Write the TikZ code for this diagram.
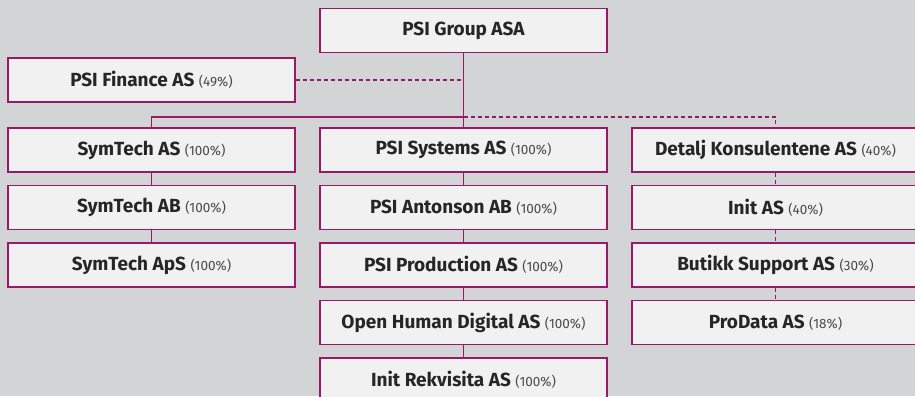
\documentclass[tikz,border=0pt]{standalone}
\usepackage{fontspec}
\setmainfont{Fira Sans}
\usepackage{tikz}
\usetikzlibrary{positioning}

\definecolor{psiline}{HTML}{98186A}
\definecolor{psibg}{HTML}{D3D4D6}
\definecolor{psibox}{HTML}{F1F1F2}
\definecolor{psitext}{HTML}{262626}
\definecolor{psishare}{HTML}{4A4A4A}
\newcommand{\share}[1]{{\fontsize{13.5}{15}\selectfont\mdseries\color{psishare}(#1)}}

\begin{document}
\begin{tikzpicture}[x = 1pt, y = -1pt, node distance = 12.4pt,
    every node/.style = { draw = psiline, fill = psibox, line width = 1.1pt, shape = rectangle,
      minimum width = 287pt, minimum height = 44pt, inner sep = 0pt, text = psitext,
      font = \fontsize{19}{21}\selectfont\bfseries },
    owned/.style = { draw = psiline, line width = 1.1pt },
    partial/.style = { owned, dash pattern = on 4pt off 3pt }]
    \fill [psibg] (0,0) rectangle (915,396);
    \useasboundingbox (0,0) rectangle (915,396);

    \node (group) at (463.5,30.5) { PSI Group ASA };
    \node (finance) at (151.5,80) { PSI Finance AS \share{49\%} };

    % left column
    \node (symas) at (151.5,150) { SymTech AS \share{100\%} };
    \node [below = of symas] (symab) { SymTech AB \share{100\%} };
    \node [below = of symab] (symaps) { SymTech ApS \share{100\%} };

    % middle column
    \node (systems) at (463.5,150) { PSI Systems AS \share{100\%} };
    \node [below = of systems] (antonson) { PSI Antonson AB \share{100\%} };
    \node [below = of antonson] (production) { PSI Production AS \share{100\%} };
    \node [below = of production] (human) { Open Human Digital AS \share{100\%} };
    \node [below = of human] (rekvisita) { Init Rekvisita AS \share{100\%} };

    % right column
    \node (detalj) at (775.5,150) { Detalj Konsulentene AS \share{40\%} };
    \node [below = of detalj] (init) { Init AS \share{40\%} };
    \node [below = of init] (butikk) { Butikk Support AS \share{30\%} };
    \node [below = of butikk] (prodata) { ProData AS \share{18\%} };

    \coordinate (split) at (463.5,117);
    \coordinate (fjoin) at (finance.east -| group.south);

    \draw [owned] (group) -- (systems);
    \draw [partial] (finance) -- (fjoin);
    \draw [owned] (symas) |- (split);
    \draw [partial] (split) -| (detalj);

    \draw [owned] (symas) -- (symab) (symab) -- (symaps);
    \draw [owned] (systems) -- (antonson) (antonson) -- (production)
      (production) -- (human) (human) -- (rekvisita);
    \draw [partial] (detalj) -- (init) (init) -- (butikk) (butikk) -- (prodata);
\end{tikzpicture}
\end{document}
